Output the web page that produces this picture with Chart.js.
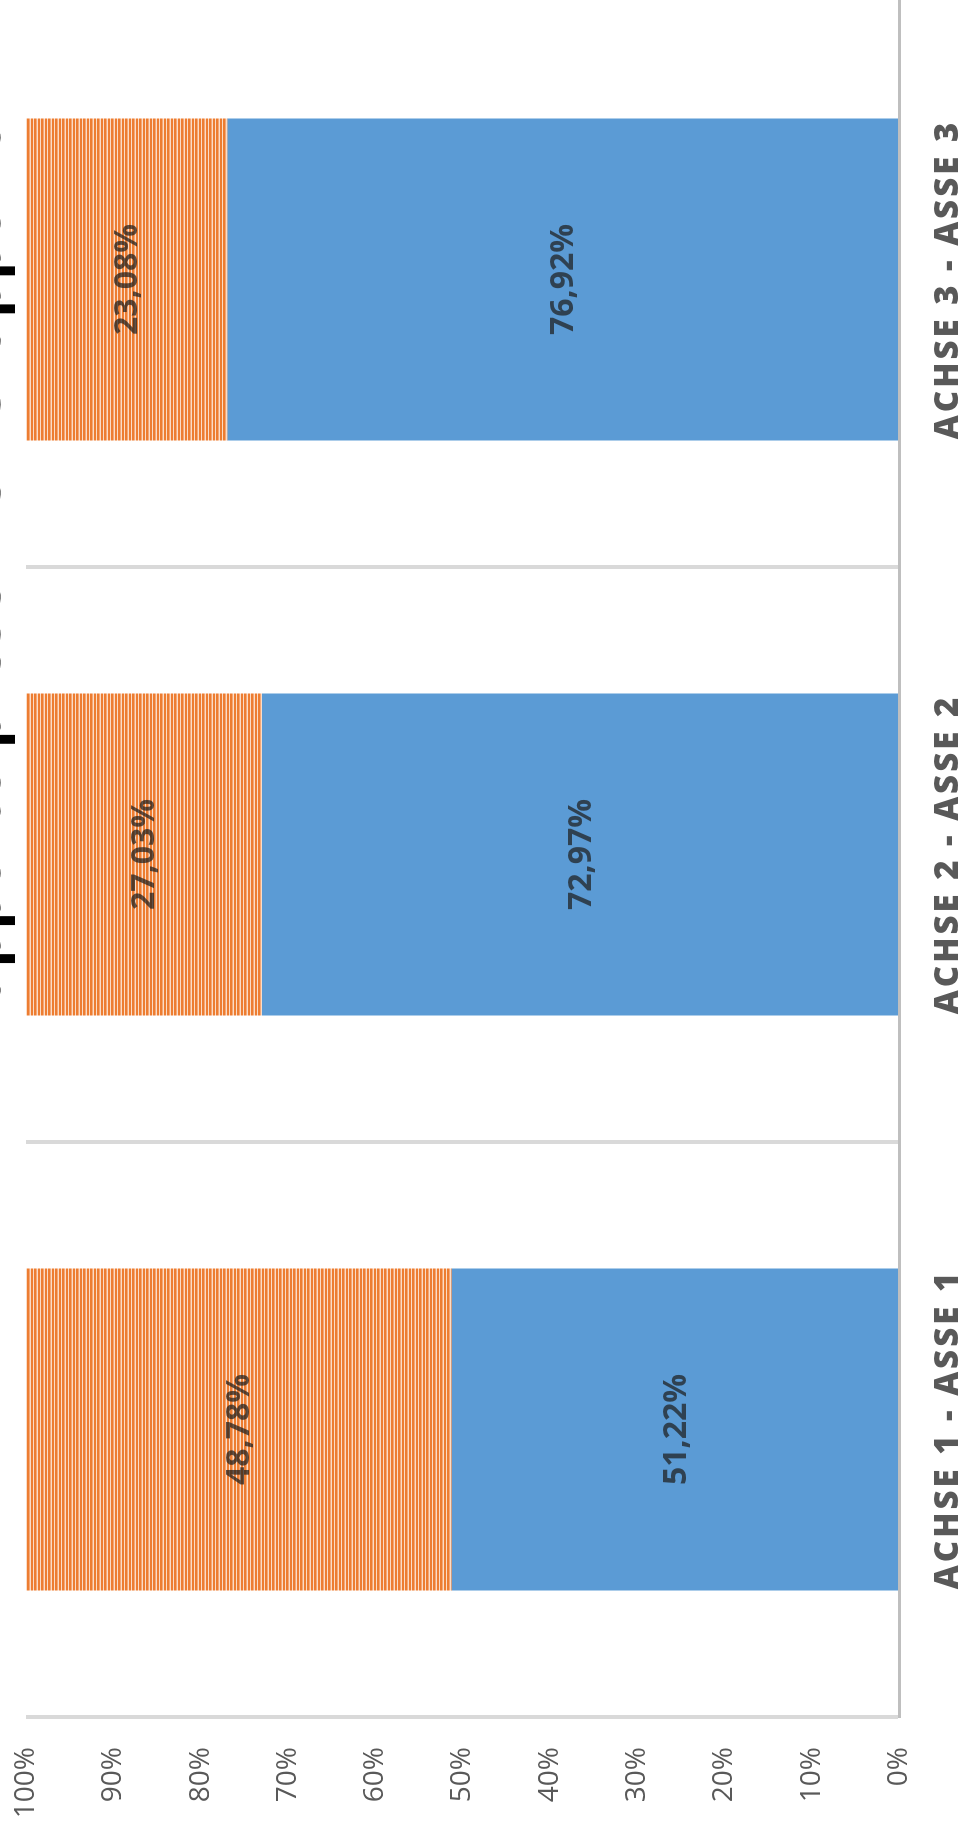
<!DOCTYPE html>
<html>
<head>
<meta charset="utf-8">
<script src="https://cdn.jsdelivr.net/npm/chart.js@4.4.1/dist/chart.umd.min.js"></script>
<style>
html,body{margin:0;padding:0;background:#fff;}
#page{position:relative;width:963px;height:1829px;overflow:hidden;background:#fff;}
#frame{position:absolute;left:0;top:0;width:1829px;height:963px;overflow:hidden;transform-origin:0 0;transform:translate(0px,1829px) rotate(-90deg);background:#fff;}
#holder{position:absolute;left:0;top:-60px;width:1837px;height:1023px;}
canvas{display:block;}
</style>
</head>
<body>
<div id="page"><div id="frame"><div id="holder"><canvas id="c" width="1837" height="1023" style="width:1837px;height:1023px"></canvas></div></div></div>
<script>
// ---- data ----
const categories = ['ACHSE 1 - ASSE 1', 'ACHSE 2 - ASSE 2', 'ACHSE 3 - ASSE 3'];
const seriesBlue = [51.22, 72.97, 76.92];
const seriesOrange = [48.78, 27.03, 23.08];
const valueMin = 0;
const valueMax = 100;
const valueStep = 10;
const titleText = 'Rapporto presenze - Gruppo 2021';

function fmt(v) { return v.toFixed(2).replace('.', ',') + '%'; }

const canvas = document.getElementById('c');
const ctx = canvas.getContext('2d');

function stripePattern() {
  const p = document.createElement('canvas');
  p.width = 8; p.height = 7;
  const g = p.getContext('2d');
  g.fillStyle = '#fbdcc6';
  g.fillRect(0, 0, 8, 7);
  g.fillStyle = '#ed7d31';
  g.fillRect(0, 0, 8, 2);
  g.fillRect(0, 3, 8, 2);
  g.fillStyle = '#f4a877';
  g.fillRect(0, 5, 8, 1);
  return ctx.createPattern(p, 'repeat');
}

const segLabels = {
  id: 'segLabels',
  afterDatasetsDraw(chart) {
    const c = chart.ctx;
    c.save();
    c.font = 'bold 32px "Open Sans"';
    c.fillStyle = 'rgba(30,30,30,0.72)';
    c.textAlign = 'center';
    c.textBaseline = 'middle';
    chart.data.datasets.forEach((ds, di) => {
      const meta = chart.getDatasetMeta(di);
      meta.data.forEach((el, i) => {
        const p = el.getCenterPoint();
        c.fillText(fmt(ds.data[i]), p.x, p.y + 1);
      });
    });
    c.restore();
    c.letterSpacing = '3px';
  },
  afterDraw(chart) {
    chart.ctx.letterSpacing = '0px';
  }
};

new Chart(ctx, {
  type: 'bar',
  data: {
    labels: categories,
    datasets: [
      { label: 'A', data: seriesBlue, backgroundColor: '#5b9bd5', borderWidth: 0, stack: 's', categoryPercentage: 1, barPercentage: 0.56 },
      { label: 'B', data: seriesOrange, backgroundColor: stripePattern(), borderWidth: 0, stack: 's', categoryPercentage: 1, barPercentage: 0.56 }
    ]
  },
  options: {
    responsive: false,
    animation: false,
    devicePixelRatio: 1,
    layout: { padding: 0 },
    plugins: {
      legend: { display: false },
      tooltip: { enabled: false },
      title: {
        display: true,
        text: titleText + '\u2002\u2002',
        align: 'end',
        color: '#000000',
        font: { family: 'Open Sans', weight: 'bold', size: 60, lineHeight: 1 },
        padding: { top: 13, bottom: 13 }
      }
    },
    scales: {
      x: {
        stacked: true,
        grid: { color: '#d9d9d9', lineWidth: 4, offset: true, drawTicks: false },
        border: { display: true, color: '#bfbfbf', width: 3, z: 1 },
        ticks: {
          z: 1,
          color: '#595959',
          font: { family: 'Open Sans', weight: '800', size: 33, lineHeight: 1.2 },
          padding: 30,
          maxRotation: 0,
          autoSkip: false
        },
        afterFit(s) { s.height = 64; }
      },
      y: {
        stacked: true,
        min: valueMin,
        max: valueMax,
        grid: { display: false, drawTicks: false },
        border: { display: false },
        ticks: {
          stepSize: valueStep,
          color: '#595959',
          font: { family: 'Open Sans', size: 28 },
          padding: 30,
          callback: v => v + '%'
        },
        afterFit(s) { s.width = 112; }
      }
    }
  },
  plugins: [segLabels]
});
</script>
</body>
</html>
